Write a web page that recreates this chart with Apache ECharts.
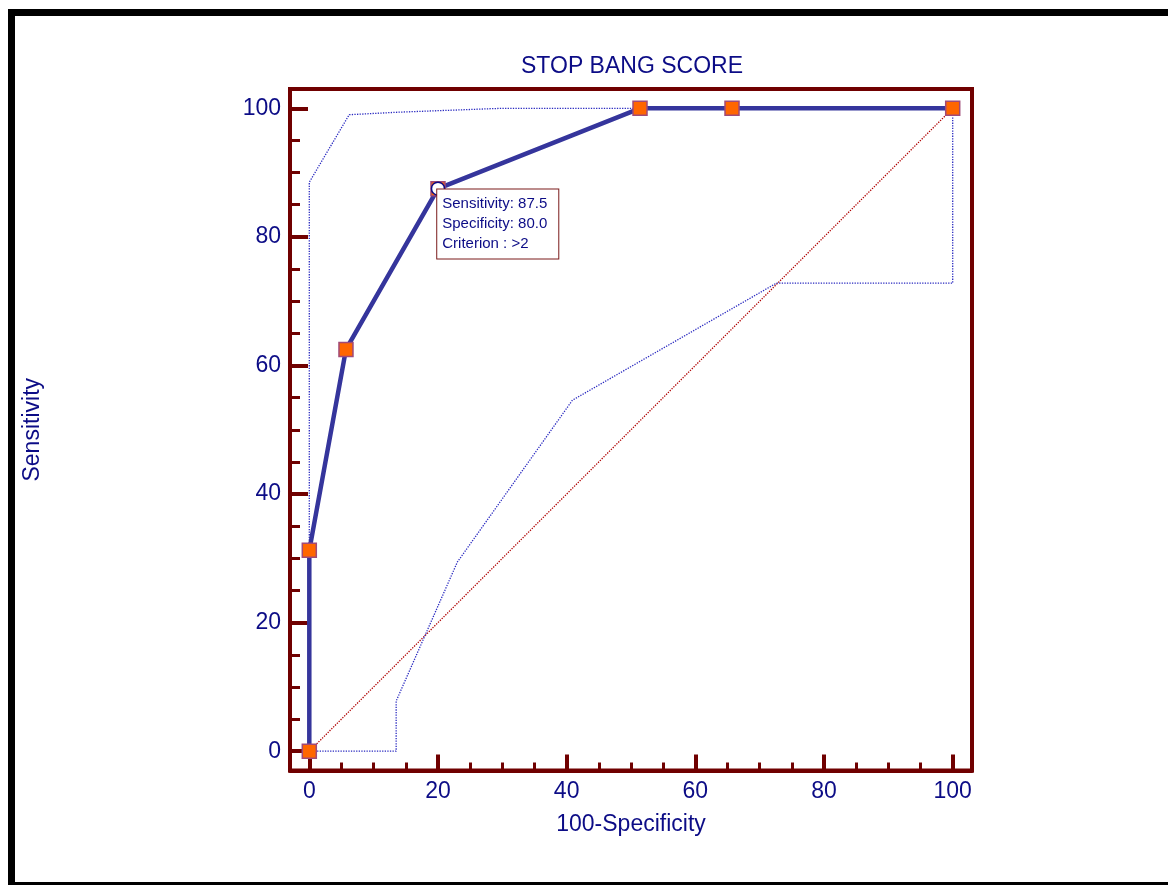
<!DOCTYPE html>
<html>
<head>
<meta charset="utf-8">
<script src="https://cdn.jsdelivr.net/npm/echarts@6/dist/echarts.min.js"></script>
<style>
html,body{margin:0;padding:0;background:#fff;}
#chart{position:absolute;left:0;top:0;width:1168px;height:885px;}
#frame{position:absolute;left:8px;top:9px;width:1200px;height:880px;box-sizing:border-box;border:7px solid #000;pointer-events:none;}
</style>
</head>
<body>
<div id="chart"></div>
<div id="frame"></div>
<script>
// ---- data ----
const titleText = 'STOP BANG SCORE';
const xName = '100-Specificity';
const yName = 'Sensitivity';
const majorTicks = [0, 20, 40, 60, 80, 100];
const minorTicks = [5, 10, 15, 25, 30, 35, 45, 50, 55, 65, 70, 75, 85, 90, 95];
// ROC curve points (100-Specificity, Sensitivity)
const rocX = [0, 0, 5.7, 20, 51.4, 65.7, 100];
const rocY = [0, 31.25, 62.5, 87.5, 100, 100, 100];
// confidence bounds
const upperX = [0, 0, 6.2, 14, 30, 100];
const upperY = [0, 88.5, 99.0, 99.4, 100, 100];
const lowerX = [0, 13.5, 13.5, 23.0, 40.9, 72.6, 100, 100];
const lowerY = [0, 0, 7.8, 29.4, 54.6, 72.8, 72.8, 100];
// reference diagonal
const diagX = [0, 100];
const diagY = [0, 100];
// optimal criterion
const critX = 20;
const critY = 87.5;
const critLines = ['Sensitivity: 87.5', 'Specificity: 80.0', 'Criterion : >2'];

const zip = (a, b) => a.map((v, i) => [v, b[i]]);
const NAVY = '#0c0c86';
const MAROON = '#700000';
const FONT = '"Liberation Sans", Arial, sans-serif';

const chart = echarts.init(document.getElementById('chart'), null, {renderer: 'canvas'});

const baseAxis = {
  type: 'value', min: -3, max: 103, splitLine: {show: false}
};
const DOT = [1.3, 1.3];

chart.setOption({
  animation: false,
  backgroundColor: 'transparent',
  textStyle: {fontFamily: FONT},
  title: {
    text: titleText, left: 627, top: 50, textAlign: 'center',
    textStyle: {color: NAVY, fontSize: 23, fontWeight: 'normal', fontFamily: FONT}
  },
  grid: {left: 290, right: 196, top: 89, bottom: 114.5, show: true, borderColor: MAROON, borderWidth: 4, containLabel: false},
  xAxis: [
    Object.assign({}, baseAxis, {
      position: 'bottom',
      axisLine: {show: true, onZero: false, lineStyle: {color: MAROON, width: 4}},
      axisTick: {show: true, inside: true, length: 16, lineStyle: {color: MAROON, width: 4}, customValues: majorTicks},
      axisLabel: {show: true, margin: 10, color: NAVY, fontSize: 23, fontFamily: FONT, customValues: majorTicks},
      name: xName, nameLocation: 'middle', nameGap: 43,
      nameTextStyle: {color: NAVY, fontSize: 23, fontFamily: FONT}
    }),
    Object.assign({}, baseAxis, {
      position: 'bottom',
      axisLine: {show: false, onZero: false},
      axisTick: {show: true, inside: true, length: 8, lineStyle: {color: MAROON, width: 3}, customValues: minorTicks},
      axisLabel: {show: false}
    })
  ],
  yAxis: [
    Object.assign({}, baseAxis, {
      position: 'left',
      axisLine: {show: true, onZero: false, lineStyle: {color: MAROON, width: 4}},
      axisTick: {show: true, inside: true, length: 18, lineStyle: {color: MAROON, width: 4}, customValues: majorTicks},
      axisLabel: {show: true, margin: 9, color: NAVY, fontSize: 23, fontFamily: FONT, customValues: majorTicks},
      name: yName, nameLocation: 'middle', nameGap: 246,
      nameTextStyle: {color: NAVY, fontSize: 23, fontFamily: FONT}
    }),
    Object.assign({}, baseAxis, {
      position: 'left',
      axisLine: {show: false, onZero: false},
      axisTick: {show: true, inside: true, length: 10, lineStyle: {color: MAROON, width: 3}, customValues: minorTicks},
      axisLabel: {show: false}
    })
  ],
  series: [
    {
      name: 'diagonal', type: 'line', xAxisIndex: 0, yAxisIndex: 0, z: 2,
      data: zip(diagX, diagY), showSymbol: false, symbol: 'none',
      lineStyle: {color: '#b00000', width: 1.3, type: DOT}
    },
    {
      name: 'upper', type: 'line', xAxisIndex: 0, yAxisIndex: 0, z: 2,
      data: zip(upperX, upperY), showSymbol: false, symbol: 'none',
      lineStyle: {color: '#2a2ac0', width: 1.3, type: DOT}
    },
    {
      name: 'lower', type: 'line', xAxisIndex: 0, yAxisIndex: 0, z: 2,
      data: zip(lowerX, lowerY), showSymbol: false, symbol: 'none',
      lineStyle: {color: '#2a2ac0', width: 1.3, type: DOT}
    },
    {
      name: 'ROC', type: 'line', xAxisIndex: 0, yAxisIndex: 0, z: 3,
      data: zip(rocX, rocY), symbol: 'rect', symbolSize: 14, showSymbol: true,
      lineStyle: {color: '#35359c', width: 4.5},
      itemStyle: {color: '#ff6600', borderColor: '#a04a78', borderWidth: 1.5}
    },
    {
      name: 'criterion', type: 'scatter', xAxisIndex: 0, yAxisIndex: 0, z: 4,
      data: [[critX, critY]], symbol: 'circle', symbolSize: 13,
      itemStyle: {color: '#ffffff', borderColor: NAVY, borderWidth: 1.5, opacity: 1},
      label: {
        show: true, position: [6.5, 8], align: 'left', verticalAlign: 'top',
        formatter: () => critLines.join('\n'),
        color: NAVY, fontSize: 15, lineHeight: 20, fontFamily: FONT,
        backgroundColor: '#ffffff', borderColor: '#7a1a1a', borderWidth: 1,
        padding: [4, 11, 5, 5]
      }
    }
  ]
});
</script>
</body>
</html>
